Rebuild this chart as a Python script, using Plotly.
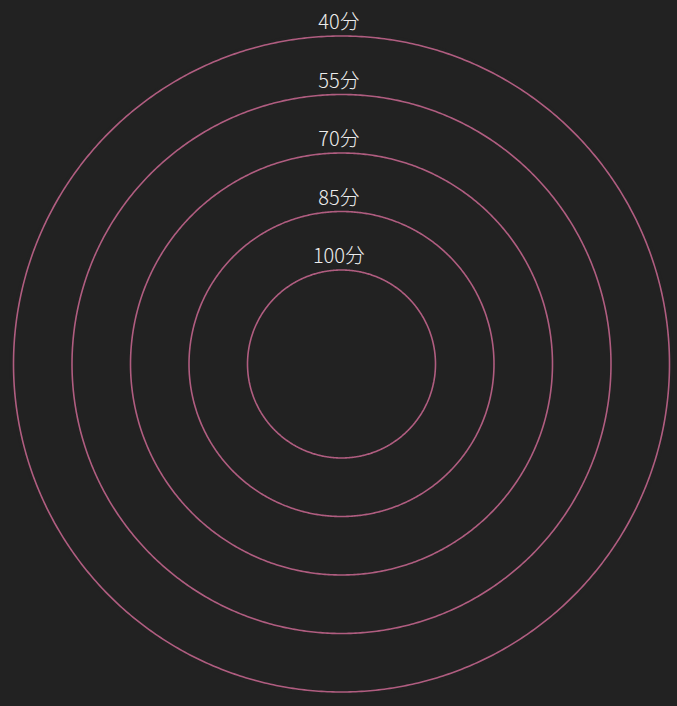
import plotly.graph_objects as go
import numpy as np

scores = [40, 55, 70, 85, 100]
labels = ["40分", "55分", "70分", "85分", "100分"]

W, H = 677, 706
cx, cy = 341.5, 364
px_per_unit = 3.9          # radial scale (pixels per score point)
r_center = 124.1           # score value mapped to the centre
r_edge = 39                # score value at the polar domain edge
R = px_per_unit * (r_center - r_edge)
bg = "#222222"
line_color = "#b05d80"

theta = list(np.linspace(0, 360, 721))

fig = go.Figure()
for s in scores:
    fig.add_trace(go.Scatterpolar(
        r=[s] * len(theta), theta=theta, mode="lines",
        line=dict(color=line_color, width=1.6),
        hoverinfo="skip", showlegend=False))

# label offsets (pixels): up by 2, left by 2.5
lab_r = [s - 2 / px_per_unit for s in scores]
lab_t = [90 + np.degrees(2.5 / (px_per_unit * (r_center - s))) for s in scores]
fig.add_trace(go.Scatterpolar(
    r=lab_r, theta=lab_t, mode="text",
    text=labels, textposition="top center",
    textfont=dict(family="Noto Sans CJK SC", size=20, color="#ececec", weight=300),
    showlegend=False, hoverinfo="skip", cliponaxis=False))

fig.update_layout(
    width=W, height=H,
    margin=dict(l=0, r=0, t=0, b=0),
    paper_bgcolor=bg, plot_bgcolor=bg,
    polar=dict(
        bgcolor=bg,
        domain=dict(x=[(cx - R) / W, (cx + R) / W],
                    y=[(H - cy - R) / H, (H - cy + R) / H]),
        radialaxis=dict(range=[r_center, r_edge], visible=False, showgrid=False),
        angularaxis=dict(visible=False, showgrid=False),
    ),
)
fig.write_html("out.html")
